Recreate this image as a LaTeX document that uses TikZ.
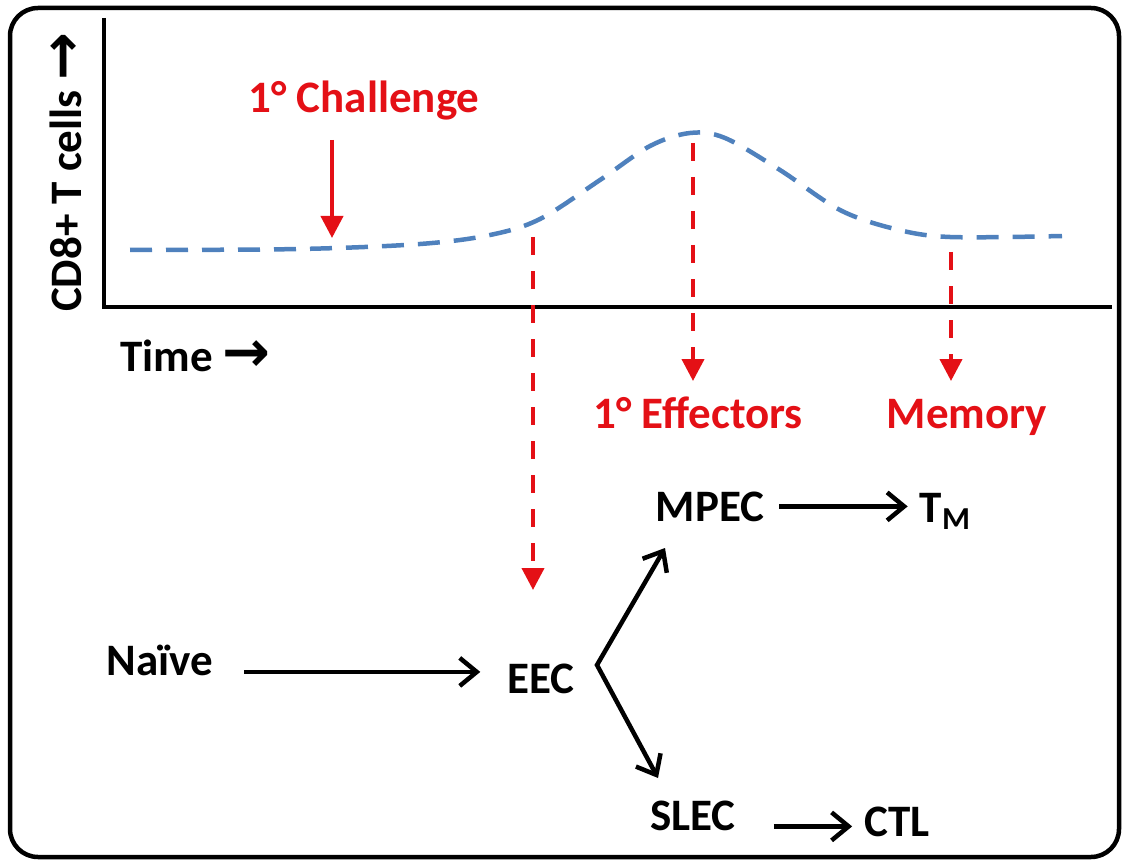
\documentclass[tikz,border=0pt]{standalone}
\usepackage{fontspec}
\setmainfont{Carlito}
\newfontfamily\arrowfont{DejaVu Sans}
\usetikzlibrary{arrows.meta}
\definecolor{cblue}{RGB}{79,129,189}
\definecolor{cred}{RGB}{228,16,22}
\newcommand{\bigarr}{\scalebox{1.3}{\arrowfont\bfseries\fontsize{44}{44}\selectfont →}}
\begin{document}
\begin{tikzpicture}[x=1pt,y=-1pt,
  lbl/.style={font=\fontsize{45}{50}\selectfont\bfseries, inner sep=0pt, anchor=base},
  rlbl/.style={lbl, text=cred},
  barb/.tip={Straight Barb[length=17pt,width=28pt,line width=4.5pt]},
  flow/.style={line width=4.5pt, -barb},
  rsolid/.style={cred, line width=4pt, -{Triangle[length=22pt,width=22pt]}},
  rdash/.style={cred, line width=4pt, dash pattern=on 18pt off 16pt, -{Triangle[length=22pt,width=22pt]}}]
\useasboundingbox (0,0) rectangle (1122,861);
% frame
\draw[line width=4.5pt, rounded corners=28pt] (10,8) rectangle (1119,857);
% axes
\draw[line width=4.5pt] (104,18) -- (104,307) -- (1112,307);
\node[lbl, anchor=center, rotate=90] (ylab) at (66,172) {CD8+ T cells \bigarr};
\node[lbl, anchor=base west] (xlab) at (120,371) {Time \bigarr};
% curve
\draw[cblue, line width=4.5pt, dash pattern=on 22pt off 14pt]
  plot[smooth, tension=0.55] coordinates {(130,250) (300,249) (420,244) (490,235) (540,219) (600,180) (650,146) (690,133) (725,138) (780,170) (840,210) (895,229) (950,237) (1062,236)};
% red labels
\node[rlbl] (chal) at (364,113) {1° Challenge};
\node[rlbl] (eff) at (698,428) {1° Effectors};
\node[rlbl] (mem) at (967,428) {Memory};
\coordinate (ca) at (332,140);
\coordinate (cb) at (332,238);
\draw[rsolid] (ca) -- (cb);
\coordinate (p1) at (533,237);
\coordinate (q1) at (533,590);
\coordinate (p2) at (693,143);
\coordinate (q2) at (693,381);
\coordinate (p3) at (951,252);
\coordinate (q3) at (951,381);
\draw[rdash] (p1) -- (q1);
\draw[rdash] (p2) -- (q2);
\draw[rdash] (p3) -- (q3);
% cell nodes
\node[lbl] (naive) at (160,675) {Naïve};
\node[lbl] (eec) at (541,693) {EEC};
\node[lbl] (mpec) at (710,521) {MPEC};
\node[lbl] (tm) at (945,522) {T\raisebox{-7pt}{\fontsize{32}{34}\selectfont M}};
\node[lbl] (slec) at (693,830) {SLEC};
\node[lbl] (ctl) at (897,836) {CTL};
% arrows
\coordinate (a1) at ([xshift=31pt,yshift=-12pt]naive.east);
\draw[flow] (a1) -- ([xshift=-27pt]eec.west |- a1);
\coordinate (fork) at (597,665);
\coordinate (mtip) at (665,548);
\coordinate (stip) at (658,778);
\draw[line width=4.5pt, miter limit=10, barb-barb] (mtip) -- (fork) -- (stip);
\coordinate (a2) at ([xshift=15pt,yshift=0pt]mpec.east);
\draw[flow] (a2) -- ([xshift=-12pt]tm.west |- a2);
\coordinate (a3) at ([xshift=38pt,yshift=-11pt]slec.east);
\draw[flow] (a3) -- ([xshift=-12pt]ctl.west |- a3);
\end{tikzpicture}
\end{document}
